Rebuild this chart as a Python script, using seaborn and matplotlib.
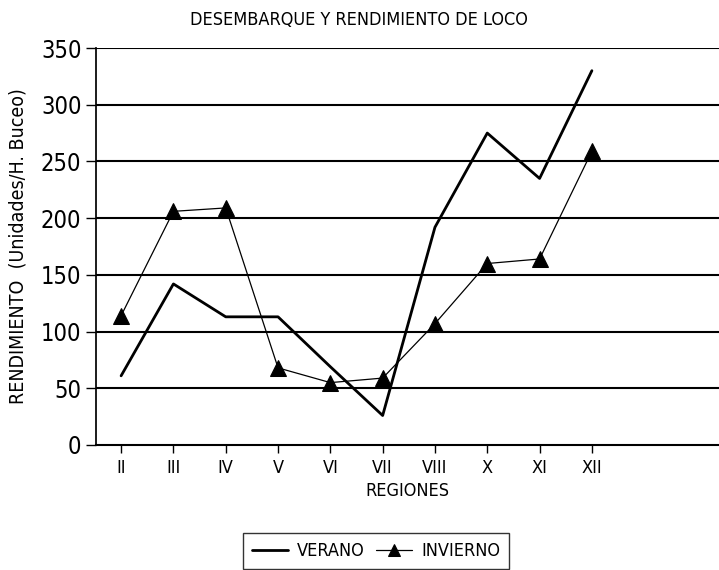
import seaborn as sns
import matplotlib.pyplot as plt
import pandas as pd

regiones = ['II', 'III', 'IV', 'V', 'VI', 'VII', 'VIII', 'X', 'XI', 'XII']
verano = [61, 142, 113, 113, 69, 26, 192, 275, 235, 330]
invierno = [114, 206, 209, 68, 55, 59, 107, 160, 164, 259]

df = pd.DataFrame({'region': regiones, 'VERANO': verano, 'INVIERNO': invierno})
df['pos'] = range(len(regiones))

sns.set_theme(style='white')
plt.rcParams['font.family'] = ['DejaVu Sans']
plt.rcParams['font.stretch'] = 'condensed'
plt.rcParams['text.color'] = 'black'
plt.rcParams['axes.labelcolor'] = 'black'
plt.rcParams['xtick.color'] = 'black'
plt.rcParams['ytick.color'] = 'black'

fig = plt.figure(figsize=(7.19, 5.70), dpi=100, facecolor='white')
ax = fig.add_axes([96/719, 1-445/570, 1-96/719, (445-48)/570])

# grid lines at every 50
for v in range(50, 351, 50):
    ax.axhline(v, color='black', lw=1.5, zorder=0)

sns.lineplot(x='pos', y='VERANO', data=df, ax=ax, color='black', lw=2,
             label='VERANO', legend=False)
sns.lineplot(x='pos', y='INVIERNO', data=df, ax=ax, color='black', lw=0.9,
             marker='^', markersize=11, markeredgecolor='black',
             label='INVIERNO', legend=False)

ax.set_xlim(-0.48, 11.43)
ax.set_ylim(0, 350)
ax.set_xticks(df['pos'])
ax.set_xticklabels(regiones, fontsize=13)
ax.set_yticks(range(0, 351, 50))
ax.tick_params(axis='y', labelsize=17, length=7, width=1, color='black', left=True)
ax.tick_params(axis='x', length=6, width=1, color='black', bottom=True, pad=4)
for s in ['top', 'right']:
    ax.spines[s].set_visible(False)
ax.spines['left'].set_color('black')
ax.spines['bottom'].set_color('black')
ax.spines['bottom'].set_linewidth(1.5)
ax.set_xlabel('REGIONES', fontsize=13, labelpad=4)
ax.set_ylabel('RENDIMIENTO  (Unidades/H. Buceo)', fontsize=14, labelpad=10)

fig.text(359/719, 1-20/570, 'DESEMBARQUE Y RENDIMIENTO DE LOCO', ha='center',
         va='center', fontsize=13)

h, l = ax.get_legend_handles_labels()
leg = fig.legend(h, l, loc='upper left', bbox_to_anchor=(243/719, 1-533/570),
                 ncol=2, fontsize=13, frameon=True, fancybox=False,
                 edgecolor='black', handlelength=2.0, columnspacing=0.6,
                 borderpad=0.5, handletextpad=0.5, borderaxespad=0,
                 markerscale=0.8)
leg.get_frame().set_linewidth(1)

fig.savefig('out.png', dpi=100)
